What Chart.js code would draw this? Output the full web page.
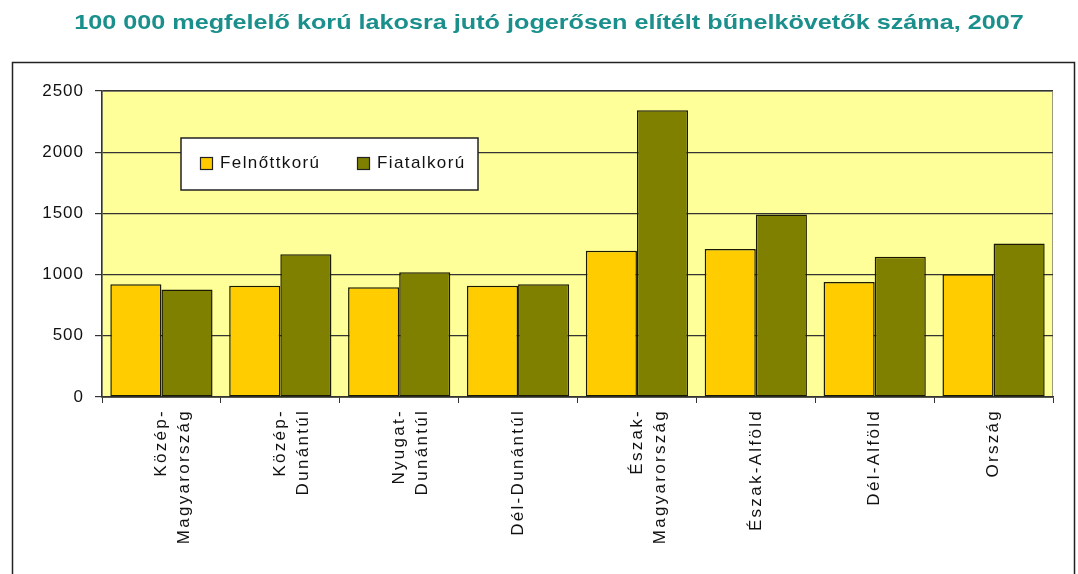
<!DOCTYPE html>
<html>
<head>
<meta charset="utf-8">
<script src="https://cdn.jsdelivr.net/npm/chart.js@4/dist/chart.umd.min.js"></script>
<style>
    html, body { margin: 0; padding: 0; background: #fff; }
    #wrap { width: 1078px; height: 574px; position: relative; }
</style>
</head>
<body>
<div id="wrap"><canvas id="chart" width="1078" height="574"></canvas></div>
<script>
'use strict';

var titleText = '100 000 megfelelő korú lakosra jutó jogerősen elítélt bűnelkövetők száma, 2007';
var regions = [
    ['Közép-', 'Magyarország'],
    ['Közép-', 'Dunántúl'],
    ['Nyugat-', 'Dunántúl'],
    'Dél-Dunántúl',
    ['Észak-', 'Magyarország'],
    'Észak-Alföld',
    'Dél-Alföld',
    'Ország'
];
var seriesNames = ['Felnőttkorú', 'Fiatalkorú'];
var adults = [922, 909, 896, 909, 1195, 1210, 940, 1003];
var juveniles = [878, 1166, 1019, 922, 2342, 1492, 1145, 1254];
var yTicks = [0, 500, 1000, 1500, 2000, 2500];

var colors = ['#ffcc00', '#808000'];
var fontFamily = 'Arial, "Liberation Sans", sans-serif';

// wrap a scale's label drawing so it gets a bit of letter spacing, like the original
function spaceLabels(scale, spacing){
    if(scale._spaced) return;
    var orig = scale.drawLabels;
    scale.drawLabels = function(area){
        var ctx = this.ctx;
        var old = ctx.letterSpacing;
        ctx.letterSpacing = spacing;
        orig.call(this, area);
        ctx.letterSpacing = old || '0px';
    };
    scale._spaced = true;
}

// title, outer frame, plot background and the boxed legend
var decorPlugin = {
    id: 'decor',
    afterLayout: function(chart){
        spaceLabels(chart.scales.x, '2.3px');
        spaceLabels(chart.scales.y, '1px');
    },
    beforeDraw: function(chart){
        var ctx = chart.ctx, a = chart.chartArea;
        ctx.save();
        // the original title is a wide-set bold face, so stretch it a little
        ctx.translate(549, 23);
        ctx.scale(1.2, 1);
        ctx.fillStyle = '#1a8f8c';
        ctx.font = 'bold 21px ' + fontFamily;
        ctx.textAlign = 'center';
        ctx.textBaseline = 'middle';
        ctx.fillText(titleText, 0, 0);
        ctx.restore();

        ctx.save();
        ctx.strokeStyle = '#222';
        ctx.lineWidth = 1.5;
        ctx.strokeRect(12.5, 62.5, 1062, 540);

        ctx.fillStyle = '#ffff99';
        ctx.fillRect(a.left, a.top, a.right - a.left, a.bottom - a.top);
        ctx.strokeStyle = '#9a9a80';
        ctx.lineWidth = 1;
        ctx.strokeRect(a.left, a.top + 0.5, a.right - a.left - 0.5, a.bottom - a.top);
        ctx.restore();
    },
    afterDatasetsDraw: function(chart){
        var ctx = chart.ctx;
        ctx.save();
        ctx.fillStyle = '#fff';
        ctx.fillRect(181, 138, 297, 52);
        ctx.strokeStyle = '#222';
        ctx.lineWidth = 1.5;
        ctx.strokeRect(181, 138, 297, 52);

        ctx.font = '17px ' + fontFamily;
        ctx.letterSpacing = '1.4px';
        ctx.textBaseline = 'middle';
        var xs = [200, 357];
        for(var i = 0; i < seriesNames.length; i++){
            ctx.fillStyle = colors[i];
            ctx.fillRect(xs[i], 157, 12, 12);
            ctx.lineWidth = 1.2;
            ctx.strokeStyle = '#222';
            ctx.strokeRect(xs[i] + 0.5, 157.5, 12, 12);
            ctx.fillStyle = '#111';
            ctx.fillText(seriesNames[i], xs[i] + 20, 163);
        }
        ctx.restore();
    }
};

var chart = new Chart(document.getElementById('chart').getContext('2d'), {
    type: 'bar',
    data: {
        labels: regions,
        datasets: [
            {
                label: seriesNames[0],
                data: adults,
                backgroundColor: colors[0],
                borderColor: '#1a1a00',
                borderWidth: 1.5,
                borderSkipped: false
            },
            {
                label: seriesNames[1],
                data: juveniles,
                backgroundColor: colors[1],
                borderColor: '#1a1a00',
                borderWidth: 1.5,
                borderSkipped: false
            }
        ]
    },
    options: {
        responsive: false,
        animation: false,
        layout: {
            padding: {top: 91, left: 20, right: 25, bottom: 0}
        },
        categoryPercentage: 0.86,
        barPercentage: 1.0,
        plugins: {
            legend: {display: false},
            tooltip: {enabled: false}
        },
        scales: {
            x: {
                grid: {
                    display: true,
                    drawOnChartArea: false,
                    color: '#333',
                    tickLength: 6
                },
                border: {color: '#333', width: 1.5},
                ticks: {
                    color: '#111',
                    font: {family: fontFamily, size: 17, lineHeight: 1.35},
                    minRotation: 90,
                    maxRotation: 90,
                    autoSkip: false,
                    padding: 6
                },
                afterFit: function(scale){ scale.height = 177; }
            },
            y: {
                min: 0,
                max: 2500,
                afterBuildTicks: function(scale){
                    scale.ticks = yTicks.map(function(v){ return {value: v}; });
                },
                grid: {
                    color: '#333',
                    lineWidth: 1.2,
                    tickLength: 7
                },
                border: {color: '#333', width: 1.5},
                ticks: {
                    color: '#111',
                    font: {family: fontFamily, size: 17},
                    padding: 11,
                    callback: function(v){ return String(v); }
                },
                afterFit: function(scale){ scale.width = 82; }
            }
        }
    },
    plugins: [decorPlugin]
});
</script>
</body>
</html>
